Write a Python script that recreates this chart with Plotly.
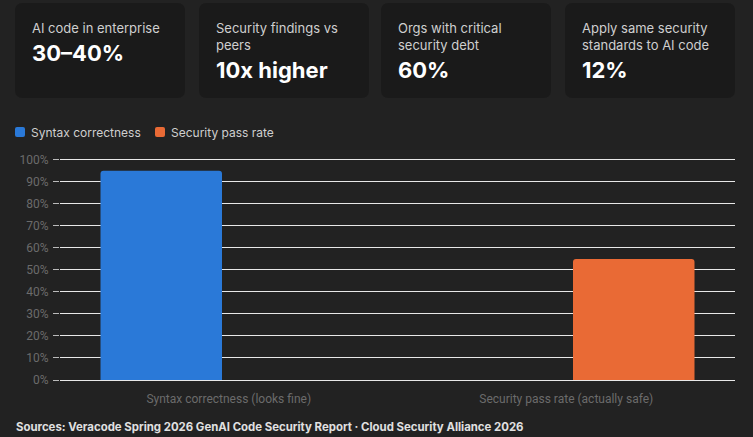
import plotly.graph_objects as go

# ---- data ----
categories = ["Syntax correctness (looks fine)", "Security pass rate (actually safe)"]
series_names = ["Syntax correctness", "Security pass rate"]
syntax_values = [95, None]
security_values = [None, 55]
y_ticks = [0, 10, 20, 30, 40, 50, 60, 70, 80, 90, 100]
y_tick_labels = [f"{v}%" for v in y_ticks]

card_labels = ["AI code in enterprise", "Security findings vs<br>peers",
               "Orgs with critical<br>security debt",
               "Apply same security<br>standards to AI code"]
card_values = ["30–40%", "10x higher", "60%", "12%"]
source_text = "Sources: Veracode Spring 2026 GenAI Code Security Report · Cloud Security Alliance 2026"

# ---- styling / layout ----
W, H = 753, 437
BG = "#222222"
CARD_BG = "#1a1a1a"
BLUE = "#2a79d8"
ORANGE = "#e96a35"
FONT = "Inter, Noto Sans, sans-serif"
colors = [BLUE, ORANGE]

def px(x):
    return x / W

def py(y):
    return 1 - y / H

def rounded_rect(x0, y0, x1, y1, r):
    return (f"M {px(x0 + r)},{py(y0)} L {px(x1 - r)},{py(y0)} "
            f"Q {px(x1)},{py(y0)} {px(x1)},{py(y0 + r)} "
            f"L {px(x1)},{py(y1 - r)} Q {px(x1)},{py(y1)} {px(x1 - r)},{py(y1)} "
            f"L {px(x0 + r)},{py(y1)} Q {px(x0)},{py(y1)} {px(x0)},{py(y1 - r)} "
            f"L {px(x0)},{py(y0 + r)} Q {px(x0)},{py(y0)} {px(x0 + r)},{py(y0)} Z")

fig = go.Figure()
fig.add_trace(go.Bar(x=categories, y=syntax_values, name=series_names[0],
                     marker=dict(color=BLUE, line=dict(width=0)), showlegend=False))
fig.add_trace(go.Bar(x=categories, y=security_values, name=series_names[1],
                     marker=dict(color=ORANGE, line=dict(width=0)), showlegend=False))

# cards
card_x = [(15, 185), (199, 369), (381, 551), (565, 735)]
card_y = (3, 98)
shapes = []
for (x0, x1) in card_x:
    shapes.append(dict(type="path", xref="paper", yref="paper",
                       path=rounded_rect(x0, card_y[0], x1, card_y[1], 8),
                       fillcolor=CARD_BG, line=dict(width=0), layer="below"))

annotations = []
for i, (x0, x1) in enumerate(card_x):
    two_line = "<br>" in card_labels[i]
    annotations.append(dict(xref="paper", yref="paper", x=px(x0 + 15), y=py(18),
                            xanchor="left", yanchor="top", align="left",
                            text=card_labels[i], showarrow=False,
                            font=dict(family=FONT, size=13, color="#cfcfcf")))
    vy = 70 if two_line else 53
    annotations.append(dict(xref="paper", yref="paper", x=px(x0 + 15), y=py(vy),
                            xanchor="left", yanchor="middle", align="left",
                            text=f"<b>{card_values[i]}</b>", showarrow=False,
                            font=dict(family=FONT, size=22, color="#ffffff")))

# legend (drawn to match the reference spacing)
legend_x = [(15, 29), (155, 169)]
for i, (sx, tx) in enumerate(legend_x):
    shapes.append(dict(type="path", xref="paper", yref="paper",
                       path=rounded_rect(sx, 127, sx + 10, 137, 2),
                       fillcolor=colors[i], line=dict(width=0)))
    annotations.append(dict(xref="paper", yref="paper", x=px(tx), y=py(132),
                            xanchor="left", yanchor="middle", showarrow=False,
                            text=series_names[i],
                            font=dict(family=FONT, size=12, color="#cfcfcf")))

annotations.append(dict(xref="paper", yref="paper", x=px(14), y=py(427),
                        xanchor="left", yanchor="middle", showarrow=False,
                        text=f"<b>{source_text}</b>",
                        font=dict(family=FONT, size=11.4, color="#e0e0e0")))

fig.update_layout(
    width=W, height=H,
    margin=dict(l=0, r=0, t=0, b=0, autoexpand=False),
    paper_bgcolor=BG, plot_bgcolor=BG,
    barmode="group", bargap=0.2, bargroupgap=0.1,
    barcornerradius=3,
    shapes=shapes, annotations=annotations,
    showlegend=False,
    xaxis=dict(domain=[px(60), px(735)], showgrid=False, zeroline=False,
               showline=False, ticks="", automargin=False, ticklabelstandoff=10,
               tickfont=dict(family="Roboto, sans-serif", size=12, color="#6b6b6b")),
    yaxis=dict(domain=[py(380), py(157)], range=[0, 101.3], automargin=False,
               tickvals=y_ticks, ticktext=y_tick_labels,
               showgrid=True, gridcolor="#e8e8e8", gridwidth=1,
               zeroline=True, zerolinecolor="#e8e8e8", zerolinewidth=1,
               ticks="outside", ticklen=6, tickcolor="#bbbbbb", ticklabelstandoff=2,
               tickfont=dict(family="Roboto, sans-serif", size=12, color="#6b6b6b")),
    font=dict(family=FONT),
)

fig.write_html("out.html")
